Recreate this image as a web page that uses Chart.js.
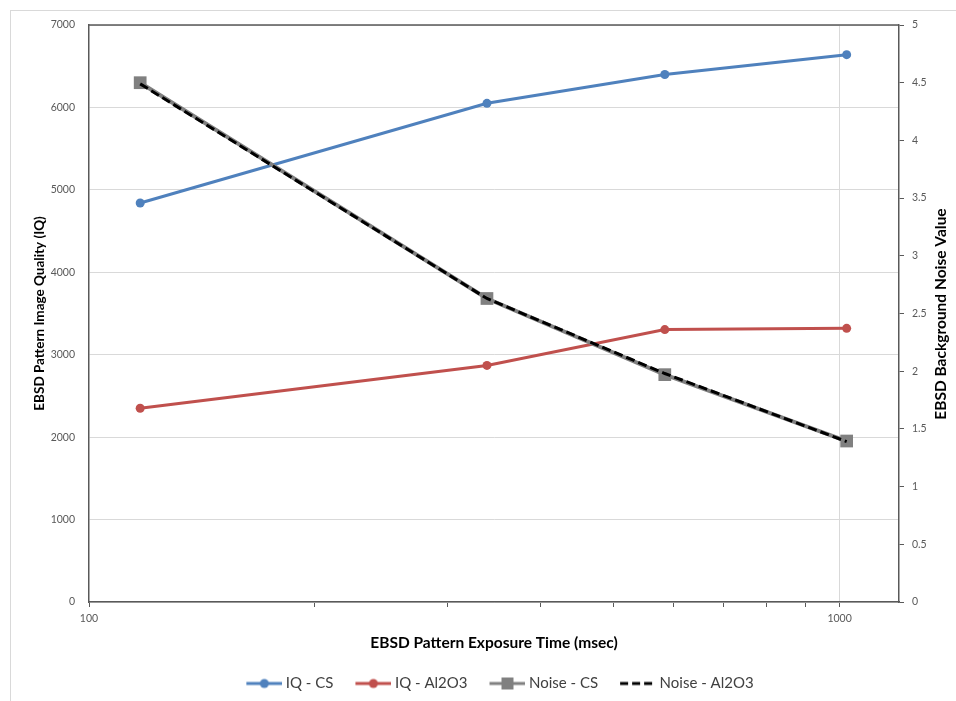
<!DOCTYPE html>
<html>
<head>
<meta charset="utf-8">
<script src="https://cdn.jsdelivr.net/npm/chart.js@4.4.1/dist/chart.umd.min.js"></script>
<style>
  html, body { margin: 0; padding: 0; background: #fff; }
  #wrap { width: 956px; height: 701px; }
</style>
</head>
<body>
<div id="wrap"><canvas id="grafico" width="956" height="701"></canvas></div>
<script>
// datos
var exposicion = [117, 339, 585, 1022];
var iqCS = [4840, 6050, 6400, 6640];
var iqAl2O3 = [2350, 2870, 3305, 3320];
var ruidoCS = [4.5, 2.63, 1.97, 1.395];
var ruidoAl2O3 = [4.49, 2.63, 1.98, 1.39];
var ticksX = [100, 200, 300, 400, 500, 600, 700, 800, 900, 1000];
var etiquetasX = [100, 1000];

var AZUL = '#4F81BD';
var ROJO = '#C0504D';
var GRIS = '#808080';
var EJE = '#595959';
var REJILLA = '#D9D9D9';
var FUENTE = 'Lato, "Open Sans", sans-serif';

function puntos(valores) {
    return valores.map(function (v, i) { return { x: exposicion[i], y: v }; });
}

// icono de leyenda: linea con marcador (52 px, se dibuja 4 px a cada lado)
function iconoLeyenda(color, marcador, punteado) {
    var c = document.createElement('canvas');
    c.width = 52;
    c.height = 14;
    var ctx = c.getContext('2d');
    ctx.strokeStyle = color;
    ctx.lineWidth = 3;
    if (punteado) ctx.setLineDash([8, 4]);
    ctx.beginPath();
    ctx.moveTo(16, 7);
    ctx.lineTo(52, 7);
    ctx.stroke();
    ctx.fillStyle = color;
    if (marcador == 'circle') {
        ctx.beginPath();
        ctx.arc(34, 7, 4.5, 0, Math.PI * 2);
        ctx.fill();
    } else if (marcador == 'rect') {
        ctx.fillRect(28, 1, 12, 12);
    }
    return c;
}

var marcoExterior = {
    id: 'marcoExterior',
    beforeDraw: function (chart) {
        var ctx = chart.ctx;
        ctx.save();
        ctx.fillStyle = '#fff';
        ctx.fillRect(0, 0, chart.width, chart.height);
        ctx.strokeStyle = REJILLA;
        ctx.lineWidth = 1;
        ctx.strokeRect(10.5, 10.5, 960, 720);
        ctx.restore();
    },
    afterDraw: function (chart) {
        var a = chart.chartArea;
        var ctx = chart.ctx;
        ctx.save();
        ctx.strokeStyle = EJE;
        ctx.lineWidth = 1.5;
        ctx.beginPath();
        ctx.moveTo(a.left, a.top);
        ctx.lineTo(a.right, a.top);
        ctx.stroke();
        // titulo del eje derecho, leido de abajo hacia arriba
        ctx.translate(941, 314);
        ctx.rotate(-Math.PI / 2);
        ctx.fillStyle = '#000';
        ctx.font = 'bold 15.5px ' + FUENTE;
        ctx.textAlign = 'center';
        ctx.textBaseline = 'middle';
        ctx.fillText('EBSD Background Noise Value', 0, 0);
        ctx.restore();
    }
};

var ctx = document.getElementById('grafico').getContext('2d');

window.miGrafico = new Chart(ctx, {
    type: 'line',
    data: {
        datasets: [{
            label: 'IQ - CS',
            data: puntos(iqCS),
            yAxisID: 'y',
            borderColor: AZUL,
            backgroundColor: AZUL,
            borderWidth: 3,
            pointRadius: 4.5,
            pointBorderWidth: 0,
            order: 3
        }, {
            label: 'IQ - Al2O3',
            data: puntos(iqAl2O3),
            yAxisID: 'y',
            borderColor: ROJO,
            backgroundColor: ROJO,
            borderWidth: 3,
            pointRadius: 4.5,
            pointBorderWidth: 0,
            order: 2
        }, {
            label: 'Noise - CS',
            data: puntos(ruidoCS),
            yAxisID: 'y1',
            borderColor: GRIS,
            backgroundColor: GRIS,
            borderWidth: 4,
            pointStyle: 'rect',
            pointRadius: 9,
            pointBorderWidth: 0,
            order: 1
        }, {
            label: 'Noise - Al2O3',
            data: puntos(ruidoAl2O3),
            yAxisID: 'y1',
            borderColor: '#000',
            backgroundColor: '#000',
            borderWidth: 3,
            borderDash: [9, 4],
            pointRadius: 0,
            order: 0
        }]
    },
    options: {
        responsive: false,
        animation: false,
        layout: { padding: { top: 25, left: 0, right: 0, bottom: 0 } },
        plugins: {
            legend: {
                position: 'bottom',
                fullSize: false,
                labels: {
                    usePointStyle: true,
                    pointStyleWidth: 44,
                    color: '#404040',
                    font: { family: FUENTE, size: 15 },
                    padding: 10,
                    sort: function (a, b) { return a.datasetIndex - b.datasetIndex; },
                    generateLabels: function (chart) {
                        var iconos = [
                            iconoLeyenda(AZUL, 'circle', false),
                            iconoLeyenda(ROJO, 'circle', false),
                            iconoLeyenda(GRIS, 'rect', false),
                            iconoLeyenda('#000', null, true)
                        ];
                        return chart.data.datasets.map(function (ds, i) {
                            return {
                                text: ds.label,
                                pointStyle: iconos[i],
                                datasetIndex: i,
                                fontColor: '#404040',
                                lineWidth: 0,
                                hidden: false
                            };
                        });
                    }
                }
            },
            tooltip: { enabled: false }
        },
        scales: {
            x: {
                type: 'logarithmic',
                min: 100,
                max: 1200,
                afterFit: function (s) { s.height = 64; },
                afterBuildTicks: function (s) {
                    s.ticks = ticksX.map(function (v) { return { value: v }; });
                },
                ticks: {
                    autoSkip: false,
                    maxRotation: 0,
                    color: EJE,
                    font: { family: FUENTE, size: 10.5 },
                    padding: 5,
                    callback: function (v) {
                        return etiquetasX.indexOf(v) >= 0 ? String(v) : '';
                    }
                },
                grid: {
                    color: function (c) {
                        return c.tick && c.tick.value == 1000 ? REJILLA : 'rgba(0,0,0,0)';
                    },
                    tickColor: EJE,
                    tickLength: 5,
                    lineWidth: 1
                },
                border: { color: EJE, width: 1.5 },
                title: {
                    display: true,
                    text: 'EBSD Pattern Exposure Time (msec)',
                    color: '#000',
                    font: { family: FUENTE, size: 15.5, weight: 'bold' },
                    padding: { top: 0, bottom: 13.5 }
                }
            },
            y: {
                position: 'left',
                min: 0,
                max: 7000,
                afterFit: function (s) { s.width = 89; },
                ticks: {
                    stepSize: 1000,
                    color: EJE,
                    font: { family: FUENTE, size: 10.5 },
                    padding: 14,
                    callback: function (v) { return String(v); }
                },
                grid: { color: REJILLA, drawTicks: false, lineWidth: 1 },
                border: { color: EJE, width: 1.5 },
                title: {
                    display: true,
                    text: 'EBSD Pattern Image Quality (IQ)',
                    color: '#000',
                    font: { family: FUENTE, size: 13.5, weight: 'bold' },
                    padding: { top: 32, bottom: 0 }
                }
            },
            y1: {
                position: 'right',
                min: 0,
                max: 5,
                afterFit: function (s) { s.width = 57; },
                ticks: {
                    stepSize: 0.5,
                    color: EJE,
                    font: { family: FUENTE, size: 10.5 },
                    padding: 8,
                    callback: function (v) { return String(Math.round(v * 10) / 10); }
                },
                grid: { drawOnChartArea: false, tickColor: EJE, tickLength: 5 },
                border: { color: EJE, width: 1.5 },
                title: { display: false }
            }
        }
    },
    plugins: [marcoExterior]
});
</script>
</body>
</html>
